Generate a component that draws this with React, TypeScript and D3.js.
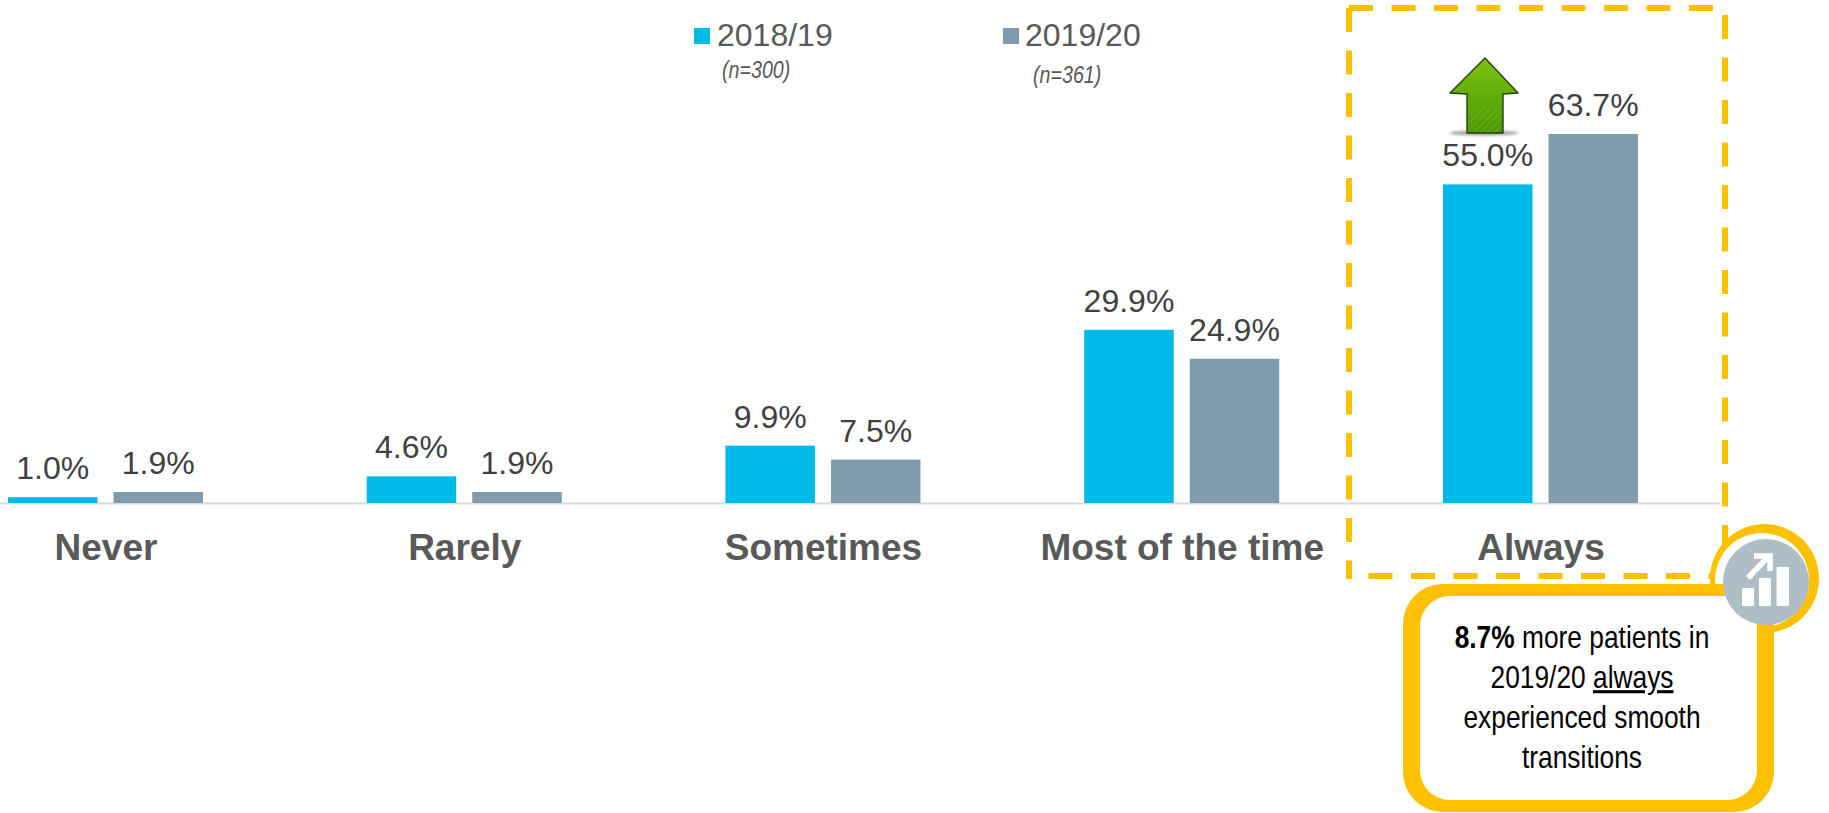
import React from "react";
import * as d3 from "d3";

const categories = ["Never", "Rarely", "Sometimes", "Most of the time", "Always"];
const seriesNames = ["2018/19", "2019/20"];
const sampleSizes = ["(n=300)", "(n=361)"];
const values2018 = [1.0, 4.6, 9.9, 29.9, 55.0];
const values2019 = [1.9, 1.9, 7.5, 24.9, 63.7];
const seriesColors = ["#00B9E6", "#7F9BAC"];
const calloutLines = ["experienced smooth", "transitions"];

const SANS = "'Liberation Sans', Arial, sans-serif";
const YELLOW = "#FFC000";

const x = d3.scaleBand<string>().domain(categories).range([-73.4, 1720.35]);
const xInner = d3.scaleBand<string>().domain(seriesNames).range([0, 195]).paddingInner(0.152);
const y = d3.scaleLinear().domain([0, 63.7]).range([503, 134]);

const groupLeft = (c: string) => (x(c) as number) + (x.bandwidth() - 196) / 2;

const dash = { stroke: YELLOW, strokeWidth: 6, strokeDasharray: "24 18.5" };

export default function App() {
  const rows = [values2018, values2019];
  return (
    <svg
      width={1829}
      height={813}
      viewBox="0 0 1829 813"
      style={{ position: "absolute", left: 0, top: 0, background: "#fff" }}
    >
      <defs>
        <linearGradient id="arrowFill" x1="0" y1="0" x2="0" y2="1">
          <stop offset="0" stopColor="#7FC115" />
          <stop offset="0.5" stopColor="#62AE08" />
          <stop offset="1" stopColor="#4C9606" />
        </linearGradient>
        <pattern id="arrowHatch" width="5" height="5" patternUnits="userSpaceOnUse" patternTransform="rotate(-45)">
          <line x1={0} y1={0} x2={5} y2={0} stroke="#8FCB3A" strokeWidth={1} opacity={0.7} />
        </pattern>
        <filter id="soft" x="-20%" y="-100%" width="140%" height="300%">
          <feGaussianBlur stdDeviation="1.4" />
        </filter>
        <clipPath id="frameBottom">
          <rect x={1346} y={570} width={385} height={14} />
        </clipPath>
      </defs>

      {/* Highlight frame round the last category */}
      <line x1={1346} y1={8} x2={1728} y2={8} {...dash} strokeDashoffset={-3} />
      <line x1={1349} y1={8} x2={1349} y2={579} {...dash} />
      <line x1={1725} y1={15} x2={1725} y2={577} {...dash} />
      <line x1={1326} y1={576} x2={1725} y2={576} {...dash} clipPath="url(#frameBottom)" />

      {/* Baseline */}
      <line x1={0} y1={503.5} x2={1720} y2={503.5} stroke="#D9D9D9" strokeWidth={2} />

      {/* Bars and value labels */}
      {seriesNames.map((s, si) =>
        categories.map((c, ci) => {
          const v = rows[si][ci];
          const left = groupLeft(c) + (xInner(s) as number);
          return (
            <g key={s + c}>
              <rect
                x={left}
                y={y(v)}
                width={xInner.bandwidth()}
                height={y(0) - y(v)}
                fill={seriesColors[si]}
              />
              <text
                x={left + xInner.bandwidth() / 2}
                y={y(v) - 18}
                textAnchor="middle"
                fontFamily={SANS}
                fontSize={32}
                fill="#404040"
              >
                {v.toFixed(1)}%
              </text>
            </g>
          );
        })
      )}

      {/* Category labels */}
      {categories.map((c) => (
        <text
          key={c}
          x={groupLeft(c) + 98}
          y={560}
          textAnchor="middle"
          fontFamily={SANS}
          fontWeight="bold"
          fontSize={37}
          fill="#595959"
        >
          {c}
        </text>
      ))}

      {/* Legend */}
      {seriesNames.map((s, i) => {
        const swatchX = [694, 1003][i];
        const textX = [717, 1025][i];
        const noteX = [722, 1033][i];
        const noteY = [78, 83][i];
        return (
          <g key={s}>
            <rect x={swatchX} y={28} width={16} height={16} fill={seriesColors[i]} />
            <text x={textX} y={46} fontFamily={SANS} fontSize={32} fill="#595959">
              {s}
            </text>
            <text
              transform={`translate(${noteX},${noteY}) scale(0.82,1)`}
              fontFamily={SANS}
              fontStyle="italic"
              fontSize={24}
              fill="#595959"
            >
              {sampleSizes[i]}
            </text>
          </g>
        );
      })}

      {/* Up arrow above the 2018/19 "Always" bar */}
      <ellipse cx={1484} cy={133} rx={35} ry={2.2} fill="#444" opacity={0.6} filter="url(#soft)" />
      <path
        d="M1485,58 L1518,93 L1503,94 L1503,133 L1467,133 L1467,94 L1450,93 Z"
        fill="url(#arrowFill)"
        stroke="#24400A"
        strokeWidth={1.4}
        strokeLinejoin="round"
      />
      <rect x={1469} y={108} width={32} height={24} fill="url(#arrowHatch)" />

      {/* Badge ring, with the callout box drawn over its lower left */}
      <circle cx={1764.5} cy={578.5} r={54.5} fill={YELLOW} />
      <circle cx={1762} cy={580} r={47} fill="#fff" />
      <rect x={1403} y={584} width={371} height={228} rx={40} fill={YELLOW} />
      <rect x={1420} y={596} width={337} height={204} rx={30} fill="#fff" />

      {/* Badge icon */}
      <circle cx={1766} cy={582} r={43} fill="#AEBDC6" />
      <g transform="translate(1766,582)" fill="#fff">
        <rect x={-24} y={6} width={12} height={18} rx={1} />
        <rect x={-7} y={-4} width={12} height={28} rx={1} />
        <rect x={10.5} y={-15} width={12.5} height={39} rx={1} />
        <path d="M-18,-4 L2,-25 M-12,-26 L4,-26 L4,-11" fill="none" stroke="#fff" strokeWidth={5.5} />
      </g>

      {/* Callout text, condensed horizontally */}
      <g fontFamily={SANS} fontSize={31} fill="#000" textAnchor="middle">
        <text transform="translate(1582,648) scale(0.85,1)">
          <tspan fontWeight="bold">8.7%</tspan> more patients in
        </text>
        <text transform="translate(1582,688) scale(0.85,1)">
          2019/20 <tspan textDecoration="underline">always</tspan>
        </text>
        {calloutLines.map((line, i) => (
          <text key={line} transform={`translate(1582,${728 + i * 40}) scale(0.85,1)`}>
            {line}
          </text>
        ))}
      </g>
    </svg>
  );
}
